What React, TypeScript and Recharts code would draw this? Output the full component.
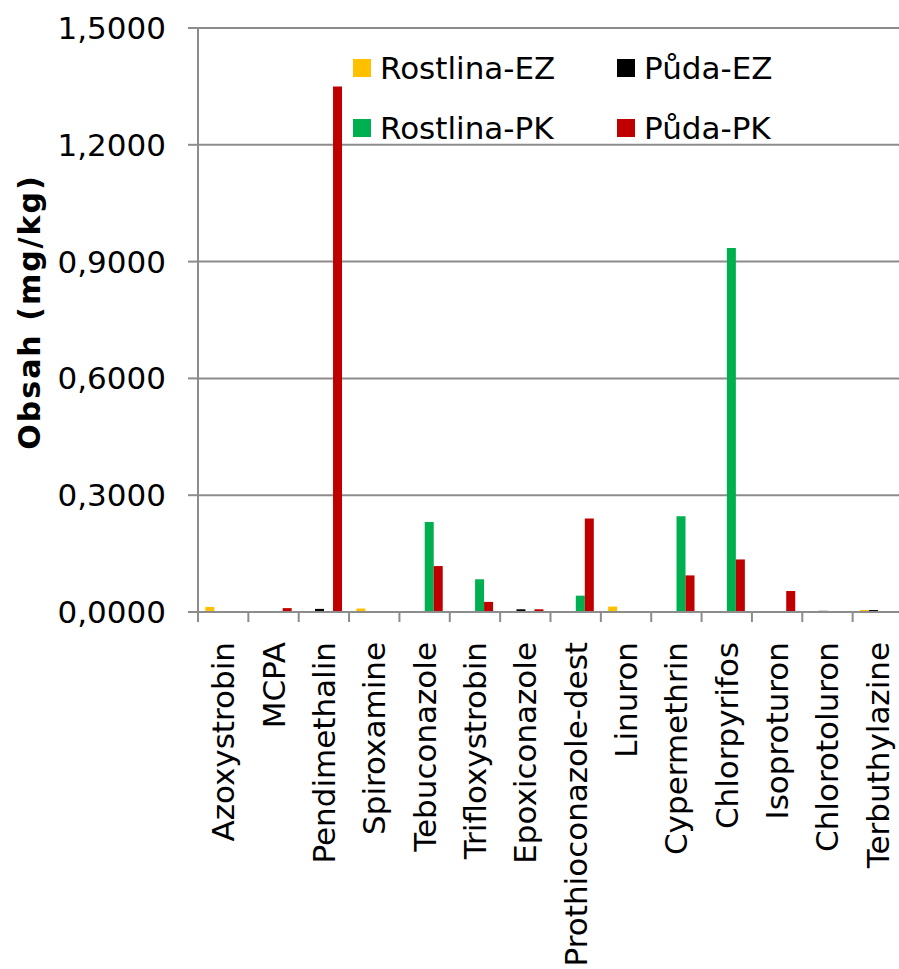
import React from 'react';
import { BarChart, Bar, XAxis, YAxis, CartesianGrid } from 'recharts';

const categories = [
  'Azoxystrobin',
  'MCPA',
  'Pendimethalin',
  'Spiroxamine',
  'Tebuconazole',
  'Trifloxystrobin',
  'Epoxiconazole',
  'Prothioconazole-dest',
  'Linuron',
  'Cypermethrin',
  'Chlorpyrifos',
  'Isoproturon',
  'Chlorotoluron',
  'Terbuthylazine'
];

const rostlinaEZ = [0.013, 0, 0, 0.009, 0, 0, 0, 0, 0.014, 0, 0, 0, 0, 0.005];
const pudaEZ = [0, 0, 0.008, 0, 0, 0, 0.007, 0, 0, 0, 0, 0, 0.003, 0.005];
const rostlinaPK = [0, 0, 0, 0, 0.231, 0.084, 0, 0.042, 0, 0.246, 0.935, 0, 0, 0];
const pudaPK = [0, 0.01, 1.35, 0, 0.118, 0.026, 0.007, 0.24, 0, 0.094, 0.135, 0.054, 0, 0];

const yTicks = [0, 0.3, 0.6, 0.9, 1.2, 1.5];

const series = [
  { key: 'rostlinaEZ', name: 'Rostlina-EZ', color: '#FFC000' },
  { key: 'pudaEZ', name: 'Půda-EZ', color: '#000000' },
  { key: 'rostlinaPK', name: 'Rostlina-PK', color: '#00B050' },
  { key: 'pudaPK', name: 'Půda-PK', color: '#C00000' }
];

const data = categories.map((name, i) => ({
  name,
  rostlinaEZ: rostlinaEZ[i],
  pudaEZ: pudaEZ[i],
  rostlinaPK: rostlinaPK[i],
  pudaPK: pudaPK[i]
}));

const FONT = '"DejaVu Sans", Verdana, sans-serif';
const GRID = '#8c8c8c';
const CHART_W = 903;
const CHART_H = 969;
const Y_W = 198;
const BAND = (CHART_W - Y_W) / categories.length;

const XTick = (props: any) => {
  const { x, y, payload, index } = props;
  const top = y + 22;
  return (
    <g>
      <line x1={x - BAND / 2} y1={y - 8} x2={x - BAND / 2} y2={y + 2} stroke={GRID} strokeWidth={2} />
      {index === categories.length - 1 && (
        <line x1={x + BAND / 2} y1={y - 8} x2={x + BAND / 2} y2={y + 2} stroke={GRID} strokeWidth={2} />
      )}
      <text
        x={x}
        y={top}
        transform={`rotate(-90, ${x}, ${top})`}
        textAnchor="end"
        dominantBaseline="central"
        fontFamily={FONT}
        fontSize={31}
        fill="#000"
      >
        {payload.value}
      </text>
    </g>
  );
};

// 2x2 legend laid over the upper part of the plot
const LegendBox = () => (
  <div
    style={{
      position: 'absolute',
      left: 353,
      top: 50,
      display: 'grid',
      gridTemplateColumns: '264px 200px',
      rowGap: 24,
      fontFamily: FONT,
      fontSize: 31,
      lineHeight: '36px'
    }}
  >
    {series.map((s) => (
      <div key={s.key} style={{ display: 'flex', alignItems: 'center' }}>
        <span style={{ width: 18, height: 18, background: s.color, marginRight: 9, display: 'inline-block' }} />
        <span>{s.name}</span>
      </div>
    ))}
  </div>
);

export default function App() {
  return (
    <div
      style={{
        position: 'absolute',
        left: 0,
        top: 0,
        width: 899,
        height: 969,
        overflow: 'hidden',
        background: '#fff'
      }}
    >
      <BarChart
        width={CHART_W}
        height={CHART_H}
        data={data}
        margin={{ top: 28, right: 0, left: 0, bottom: 0 }}
        barCategoryGap="14.5%"
        barGap={0}
      >
        <CartesianGrid vertical={false} stroke={GRID} strokeWidth={2} />
        <XAxis
          dataKey="name"
          height={357}
          interval={0}
          axisLine={{ stroke: GRID, strokeWidth: 2 }}
          tickLine={false}
          tick={<XTick />}
        />
        <YAxis
          width={Y_W}
          domain={[0, 1.5]}
          ticks={yTicks}
          interval={0}
          axisLine={{ stroke: GRID, strokeWidth: 2 }}
          tickLine={{ stroke: GRID, strokeWidth: 2 }}
          tickSize={10}
          tickMargin={22}
          tickFormatter={(v: number) => v.toFixed(4).replace('.', ',')}
          tick={{ fill: '#000', fontSize: 31, fontFamily: FONT }}
          label={{
            content: (p: any) => {
              const cx = 29;
              const cy = p.viewBox.y + p.viewBox.height / 2 - 8;
              return (
                <text
                  x={cx}
                  y={cy}
                  transform={`rotate(-90, ${cx}, ${cy})`}
                  textAnchor="middle"
                  dominantBaseline="central"
                  fontFamily={FONT}
                  fontWeight="bold"
                  fontSize={30}
                  letterSpacing={2}
                  fill="#000"
                >
                  Obsah (mg/kg)
                </text>
              );
            }
          }}
        />
        {series.map((s) => (
          <Bar key={s.key} dataKey={s.key} name={s.name} fill={s.color} isAnimationActive={false} />
        ))}
      </BarChart>
      <LegendBox />
    </div>
  );
}
